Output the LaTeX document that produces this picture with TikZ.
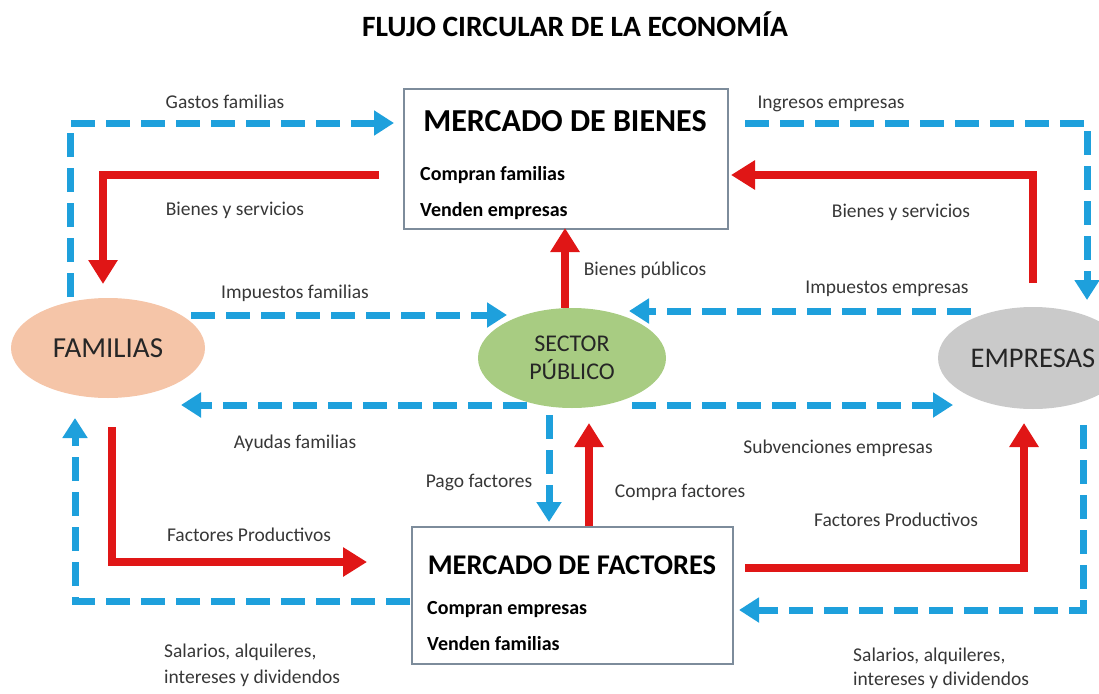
\documentclass[tikz,border=0pt]{standalone}
\usepackage{fontspec}
\setmainfont{Carlito}
\usetikzlibrary{calc}
\usetikzlibrary{arrows.meta}
\usetikzlibrary{shapes.geometric}

\definecolor{azul}{RGB}{30,160,220}
\definecolor{rojo}{RGB}{224,22,22}
\definecolor{melocoton}{RGB}{245,197,168}
\definecolor{verde}{RGB}{168,204,130}
\definecolor{gris}{RGB}{202,202,202}
\definecolor{borde}{RGB}{125,140,155}
\definecolor{texto}{RGB}{55,55,55}

\begin{document}
\begin{tikzpicture} [x=1pt,y=-1pt,
  flujo/.style={azul,line width=7pt,dash pattern=on 24pt off 11pt,-{Triangle[length=20pt,width=24pt]}},
  real/.style={rojo,line width=8pt,-{Triangle[length=24pt,width=28pt]}},
  etiqueta/.style={texto,inner sep=0pt,font=\fontsize{19.5}{22}\selectfont},
  mercado/.style={draw=borde,line width=1.5pt,fill=white},
  titulo/.style={inner sep=0pt,font=\bfseries\fontsize{32}{36}\selectfont},
  linea/.style={anchor=west,inner sep=0pt,font=\bfseries\fontsize{20}{22}\selectfont},
  agente/.style={ellipse,inner sep=0pt,text=black!85}]

\useasboundingbox (0,0) rectangle (1099,693);

\node[inner sep=0pt,font=\bfseries\fontsize{29.5}{33}\selectfont] (cab) at (575,24) {FLUJO CIRCULAR DE LA ECONOMÍA};

% mercados
\node[mercado,minimum width=324pt,minimum height=140pt] (bienes) at (566,159) {};
\node[titulo] (tbienes) at (565,121) {MERCADO DE BIENES};
\node[linea] (cfam) at (420,175) {Compran familias};
\node[linea] (vemp) at (420,211) {Venden empresas};

\node[mercado,minimum width=321pt,minimum height=137pt] (factores) at (572.5,595.5) {};
\node[titulo,font=\bfseries\fontsize{28.5}{32}\selectfont] (tfactores) at (572,565) {MERCADO DE FACTORES};
\node[linea] (cemp) at (427,610) {Compran empresas};
\node[linea] (vfam) at (427,644) {Venden familias};

% agentes
\node[agente,fill=melocoton,minimum width=194pt,minimum height=100pt,font=\fontsize{29}{32}\selectfont] (fam) at (108,348) {FAMILIAS};
\node[agente,fill=verde,minimum width=188pt,minimum height=100pt,align=center,font=\fontsize{24}{28}\selectfont] (sec) at (572,358) {SECTOR\\PÚBLICO};
\node[agente,fill=gris,minimum width=190pt,minimum height=102pt,font=\fontsize{28.5}{32}\selectfont] (emp) at (1033,358) {EMPRESAS};

% puntos libres
\coordinate (gf) at (70,297);
\coordinate (bi) at (379,175);
\coordinate (ie) at (745,123);
\coordinate (bd) at (1033,283);
\coordinate (ae) at (527,405);
\coordinate (pf) at (549,415);
\coordinate (fi) at (112,427);
\coordinate (fd) at (745,568);
\coordinate (sd) at (1083,425);
\coordinate (si) at (410,601);

% flujos azules
\draw[flujo] (gf) |- (394,123);
\draw[flujo] (191,315) -- (507,315);
\draw[flujo] (ie) -| (1087,300);
\draw[flujo] (971,311) -- (629,311);
\draw[flujo] (ae) -- (181,405);
\draw[flujo] (pf) -- (549,522);
\draw[flujo] (632,405) -- (953,405);
\draw[flujo] (sd) |- (739,610);
\draw[flujo] (si) -| (75,418);

% flujos rojos
\draw[real] (bi) -| (103,284);
\draw[real] (bd) |- (731,175);
\draw[real] (sec.north -| 565,0) -- (565,228);
\draw[real] (factores.north -| 589,0) -- (589,423);
\draw[real] (fd) -| (1024,423);
\draw[real] (fi) |- (367,562);

% etiquetas
\node[etiqueta] (lgastos) at (225,102) {Gastos familias};
\node[etiqueta] (lbienesi) at (235,210) {Bienes y servicios};
\node[etiqueta] (limpfam) at (295,293) {Impuestos familias};
\node[etiqueta] (lingresos) at (831,104) {Ingresos empresas};
\node[etiqueta] (lbienesd) at (901,212) {Bienes y servicios};
\node[etiqueta] (lpublicos) at (645,270) {Bienes públicos};
\node[etiqueta] (limpemp) at (887,289) {Impuestos empresas};
\node[etiqueta] (layudas) at (295,443) {Ayudas familias};
\node[etiqueta] (lpago) at (479,482) {Pago factores};
\node[etiqueta] (lcompra) at (680,492) {Compra factores};
\node[etiqueta] (lsubv) at (838,448) {Subvenciones empresas};
\node[etiqueta] (lfacti) at (249,535) {Factores Productivos};
\node[etiqueta] (lfactd) at (896,520) {Factores Productivos};
\node[etiqueta,anchor=west] (lsali) at (164,652) {Salarios, alquileres,};
\node[etiqueta,anchor=west] (linti) at (164,678) {intereses y dividendos};
\node[etiqueta,anchor=west] (lsald) at (853,656) {Salarios, alquileres,};
\node[etiqueta,anchor=west] (lintd) at (853,680) {intereses y dividendos};

\end{tikzpicture}
\end{document}
